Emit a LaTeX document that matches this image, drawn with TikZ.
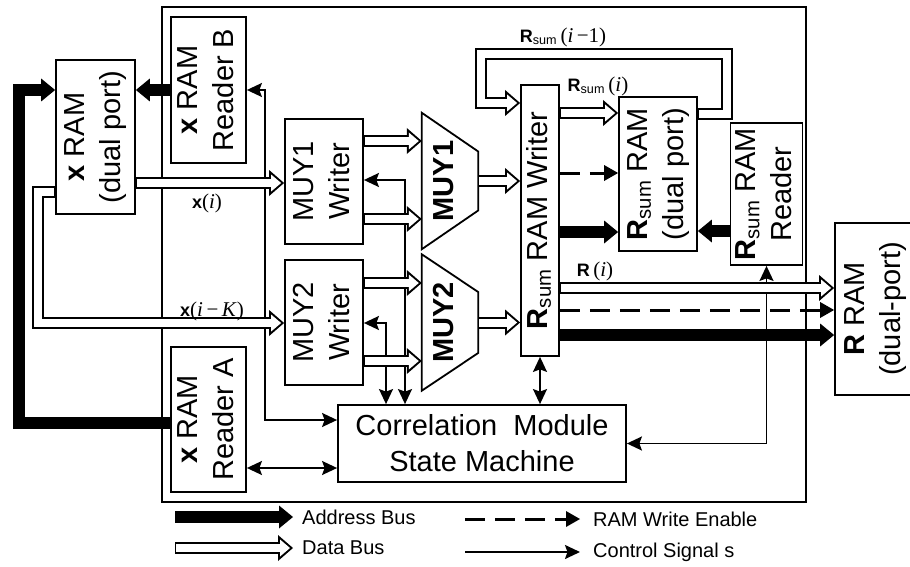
\documentclass[tikz,border=0pt]{standalone}
\usepackage{fontspec}
\setmainfont{Liberation Serif}
\setsansfont{Liberation Sans}
\usepackage{graphicx}
\usetikzlibrary{arrows.meta,positioning}
\newcommand{\vtext}[1]{\rotatebox{90}{\begin{tabular}{@{}c@{}}#1\end{tabular}}}
\newcommand{\Rsum}{\textbf{R}\textsubscript{sum}}
\newcommand{\lsf}[1]{{\sffamily\fontsize{18}{20}\selectfont#1}}

\begin{document}
\begin{tikzpicture}[x=1pt,y=-1pt,>={Stealth[length=15pt,width=14pt,inset=2.5pt]}]
  \tikzset{
    blk/.style={draw, line width=1.8pt, fill=white, inner sep=0pt,
      font=\sffamily\fontsize{29}{36}\selectfont},
    mux/.style={inner sep=0pt, minimum width=56pt, minimum height=136pt},
    muxtxt/.style={inner sep=0pt, font=\sffamily\bfseries\fontsize{29}{36}\selectfont},
    lbl/.style={inner sep=0pt, font=\fontsize{21}{24}\selectfont},
    lgd/.style={inner sep=0pt, font=\sffamily\fontsize{20}{22}\selectfont},
    ctl/.style={line width=1.8pt},
    wen/.style={line width=3pt, dash pattern=on 20pt off 10pt,
      -{Triangle[length=14pt,width=16pt,line width=0pt]}},
    abus/.style={line width=12pt, -{Triangle[length=14pt,width=23pt,line width=0pt]}},
    dbus/.style={line width=12pt, -{Triangle[length=15pt,width=26pt,line width=0pt]},
      postaction={draw=white, line width=8pt, shorten <=1pt, shorten >=3pt,
        -{Triangle[length=10pt,width=17pt,line width=0pt]}}}
  }
  \useasboundingbox (0,0) rectangle (910,567);
  \draw[line width=1.8pt] (162,7) rectangle (806,502);

  \node[blk, minimum width=79pt, minimum height=154pt] (xram) at (95.5,137) {\vtext{\textbf{x} RAM\\(dual port)}};
  \node[blk, minimum width=75pt, minimum height=146pt] (rdB) at (208.5,90) {\vtext{\textbf{x} RAM\\Reader B}};
  \node[blk, minimum width=75pt, minimum height=145pt] (rdA) at (208.5,419.5) {\vtext{\textbf{x} RAM\\Reader A}};
  \node[blk, minimum width=78pt, minimum height=125pt] (w1) at (324,181.5) {\vtext{MUY1\\Writer}};
  \node[blk, minimum width=78pt, minimum height=125pt] (w2) at (324,322.5) {\vtext{MUY2\\Writer}};
  \node[mux] (mux1) at (450,181) {};
  \node[mux] (mux2) at (450,322.5) {};
  \node[blk, minimum width=38pt, minimum height=271pt] (rw) at (540,220.5) {\vtext{\Rsum{} RAM Writer}};
  \node[blk, minimum width=78pt, minimum height=154pt] (rram) at (658,174) {\vtext{\Rsum{} RAM\\(dual port)}};
  \node[blk, minimum width=69pt, minimum height=142pt] (rrd) at (766.5,194) {\vtext{\Rsum{} RAM\\Reader}};
  \node[blk, minimum width=80pt, minimum height=172pt] (Rram) at (875,309) {\vtext{\textbf{R} RAM\\(dual-port)}};
  \node[blk, minimum width=288pt, minimum height=77pt, align=center] (cm) at (482,443.5) {Correlation~ Module\\State Machine};

  \draw[line width=1.8pt] (mux1.north west) -- ([yshift=29.5pt]mux1.east) -- ([yshift=-29.5pt]mux1.east) -- (mux1.south west) -- cycle;
  \draw[line width=1.8pt] (mux2.north west) -- ([yshift=30.5pt]mux2.east) -- ([yshift=-30.5pt]mux2.east) -- (mux2.south west) -- cycle;
  \node[muxtxt] (mux1t) at ([xshift=-6pt]mux1.center) {\rotatebox{90}{MUY1}};
  \node[muxtxt] (mux2t) at ([xshift=-6pt]mux2.center) {\rotatebox{90}{MUY2}};

  \draw[ctl,<->] (rdB.east) -| (265,420) -- (cm.west |- 0,420);
  \draw[ctl,<->] (rdA.east |- 0,468) -- (cm.west |- 0,468);
  \draw[ctl,<->] (w1.east |- 0,180) -| (cm.north -| 405,0);
  \draw[ctl,<->] (w2.east |- 0,323) -| (cm.north -| 386,0);
  \draw[ctl,<->] (rw.south) -- (rw.south |- cm.north);
  \draw[ctl,<->] (rrd.south) |- (cm.east);

  \draw[wen] (rw.east |- 0,173) -- (rram.west |- 0,173);
  \draw[wen] (rw.east |- 0,310) -- (Rram.west |- 0,310);

  \draw[abus] (rdA.west |- 0,423) -| (19,90) -- (xram.west |- 0,90);
  \draw[abus] (rdB.west) -- (xram.east |- rdB.west);
  \draw[abus] (rw.east |- 0,232) -- (rram.west |- 0,232);
  \draw[abus] (rrd.west |- 0,231) -- (rram.east |- 0,231);
  \draw[abus] (rw.east |- 0,335) -- (Rram.west |- 0,335);

  \draw[dbus] (xram.east |- 0,183) -- (w1.west |- 0,183);
  \draw[dbus] (xram.west |- 0,192) -| (38,323) -- (w2.west |- 0,323);
  \draw[dbus] (w1.east |- 0,141) -- (mux1.west |- 0,141);
  \draw[dbus] (w1.east |- 0,219) -- (mux1.west |- 0,219);
  \draw[dbus] (w2.east |- 0,283) -- (mux2.west |- 0,283);
  \draw[dbus] (w2.east |- 0,361) -- (mux2.west |- 0,361);
  \draw[dbus] (mux1.east) -- (rw.west |- mux1.east);
  \draw[dbus] (mux2.east) -- (rw.west |- mux2.east);
  \draw[dbus] (rram.east |- 0,114) -| (727,54) -| (481,103) -- (rw.west |- 0,103);
  \draw[dbus] (rw.east |- 0,113) -- (rram.west |- 0,113);
  \draw[dbus] (rw.east |- 0,288) -- (Rram.west |- 0,288);

  \node[lbl] (lxi) at (207,203) {\lsf{\textbf{x}}(\textit{i})};
  \node[lbl] (lxk) at (212,311) {\lsf{\textbf{x}}(\textit{i}\,−\,\textit{K})};
  \node[lbl] (lr1) at (563,37) {\lsf{\Rsum}\,(\textit{i}\,−1)};
  \node[lbl] (lr0) at (598,86) {\lsf{\Rsum}\,(\textit{i})};
  \node[lbl] (lri) at (595,271) {\lsf{\textbf{R}}\,(\textit{i})};

  \coordinate (lgA) at (175,517);
  \coordinate (lgAe) at (293,517);
  \coordinate (lgD) at (175,548);
  \coordinate (lgDe) at (293,548);
  \coordinate (lgW) at (465,519);
  \coordinate (lgWe) at (580,519);
  \coordinate (lgC) at (465,552);
  \coordinate (lgCe) at (580,552);
  \draw[abus] (lgA) -- (lgAe);
  \draw[dbus] (lgD) -- (lgDe);
  \draw[wen] (lgW) -- (lgWe);
  \draw[ctl,->] (lgC) -- (lgCe);
  \node[lgd, right=9pt of lgAe] (lgAt) {Address Bus};
  \node[lgd, right=9pt of lgDe] (lgDt) {Data Bus};
  \node[lgd, right=13pt of lgWe] (lgWt) {RAM Write Enable};
  \node[lgd, right=13pt of lgCe] (lgCt) {Control Signal s};
\end{tikzpicture}
\end{document}
